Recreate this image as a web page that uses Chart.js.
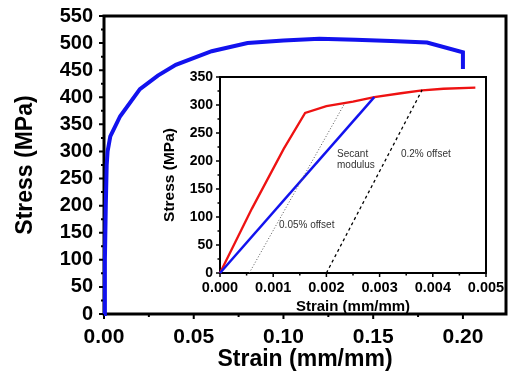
<!DOCTYPE html>
<html>
<head>
<meta charset="utf-8">
<script src="https://cdn.jsdelivr.net/npm/chart.js@4.4.0/dist/chart.umd.min.js"></script>
<style>
body { margin: 0; background: #fff; }
#wrap { position: relative; width: 508px; height: 373px; overflow: hidden; }
#main { position: absolute; left: 0; top: 0; }
#inset { position: absolute; left: 150px; top: 62px; }
</style>
</head>
<body>
<div id="wrap">
<canvas id="main" width="508" height="373"></canvas>
<canvas id="inset" width="358" height="255"></canvas>
</div>
<script>
// curva principal (ensaio completo)
const strainMain = [0, 0.0005, 0.001, 0.0015, 0.002, 0.0035, 0.009, 0.02, 0.03, 0.04, 0.06, 0.08, 0.10, 0.12, 0.14, 0.16, 0.18, 0.20, 0.20]
const stressMain = [0, 100, 200, 275, 300, 328, 365, 415, 440, 460, 485, 500, 505, 508, 506, 504, 501, 483, 452]

// detalhe (inset): regiao elastica
const strainRed = [0, 0.0006, 0.0012, 0.0016, 0.002, 0.0025, 0.0029, 0.0034, 0.0038, 0.0042, 0.0048]
const stressRed = [0, 115, 222, 286, 298, 306, 314, 321, 326, 329, 331]
const strainSecant = [0, 0.0029]
const stressSecant = [0, 314]
const strainOff005 = [0.00055, 0.00235]
const stressOff005 = [0, 304]
const strainOff02 = [0.002, 0.0038]
const stressOff02 = [0, 327]

// textos do inset
const notas = ['Secant', 'modulus', '0.2% offset', '0.05% offset']
const notasX = [0.0022, 0.0022, 0.0034, 0.00111]
const notasY = [212, 193, 212, 86]

function pares(xs, ys) {
    return xs.map((x, i) => ({ x: x, y: ys[i] }))
}

// desenha a moldura e os ticks (maiores e menores)
const moldura = {
    id: 'moldura',
    beforeDatasetsDraw(chart, args, o) {
        const { ctx, chartArea: a, scales } = chart
        ctx.save()
        ctx.strokeStyle = '#000'
        ctx.lineWidth = o.box
        ctx.strokeRect(a.left, a.top, a.right - a.left, a.bottom - a.top)
        ctx.lineWidth = o.tick
        ctx.beginPath()
        let sx = scales.x
        let nx = Math.floor((sx.max - sx.min) / o.xMinor + 1e-6)
        for (let i = 0; i <= nx; i++) {
            let px = sx.getPixelForValue(sx.min + i * o.xMinor)
            let len = i % 2 == 0 ? o.major : o.minor
            ctx.moveTo(px, a.bottom)
            ctx.lineTo(px, a.bottom + len)
        }
        let sy = scales.y
        let ny = Math.floor((sy.max - sy.min) / o.yMinor + 1e-6)
        for (let i = 0; i <= ny; i++) {
            let py = sy.getPixelForValue(sy.min + i * o.yMinor)
            let len = i % 2 == 0 ? o.major : o.minor
            ctx.moveTo(a.left, py)
            ctx.lineTo(a.left - len, py)
        }
        ctx.stroke()
        ctx.restore()
    }
}

const textos = {
    id: 'textos',
    afterDatasetsDraw(chart) {
        const { ctx, scales } = chart
        ctx.save()
        ctx.fillStyle = '#333'
        ctx.font = '10px "Liberation Sans"'
        ctx.textBaseline = 'middle'
        ctx.textAlign = 'left'
        for (let i = 0; i < notas.length; i++) {
            ctx.fillText(notas[i], scales.x.getPixelForValue(notasX[i]), scales.y.getPixelForValue(notasY[i]))
        }
        ctx.restore()
    }
}

const bold = (s) => ({ family: '"Liberation Sans", Arial', weight: 'bold', size: s })

// tira o espaco extra que o Chart.js reserva para os rotulos das pontas
function semPadding(s) {
    s.paddingLeft = 0
    s.paddingRight = 0
    s.paddingTop = 0
    s.paddingBottom = 0
}

// grafico principal
new Chart(document.getElementById('main'), {
    type: 'scatter',
    data: {
        datasets: [{
            data: pares(strainMain, stressMain),
            showLine: true,
            borderColor: '#1212ee',
            borderWidth: 4,
            pointRadius: 0,
            tension: 0,
            clip: 4
        }]
    },
    options: {
        responsive: false,
        animation: false,
        layout: { padding: { top: 16, right: 2, left: 0, bottom: 0 } },
        plugins: {
            legend: { display: false },
            tooltip: { enabled: false },
            moldura: { box: 3, tick: 2, major: 5, minor: 3, xMinor: 0.025, yMinor: 25 }
        },
        scales: {
            x: {
                type: 'linear', min: 0, max: 0.224,
                afterFit: s => { s.height = 59; semPadding(s) },
                grid: { display: false, drawTicks: false },
                border: { display: false },
                ticks: { stepSize: 0.05, includeBounds: false, autoSkip: false, padding: 11, color: '#000', font: bold(21),
                    callback: v => v.toFixed(2) },
                title: { display: true, text: 'Strain (mm/mm)', color: '#000', font: bold(23), padding: { top: 0, bottom: 0 } }
            },
            y: {
                type: 'linear', min: 0, max: 550,
                afterFit: s => { s.width = 104; semPadding(s) },
                grid: { display: false, drawTicks: false },
                border: { display: false },
                ticks: { stepSize: 50, autoSkip: false, padding: 11, color: '#000', font: bold(20) },
                title: { display: true, text: 'Stress (MPa)', color: '#000', font: bold(23), padding: { top: 12, bottom: 0 } }
            }
        }
    },
    plugins: [moldura]
})

// grafico do detalhe
new Chart(document.getElementById('inset'), {
    type: 'scatter',
    data: {
        datasets: [
            { data: pares(strainOff005, stressOff005), showLine: true, borderColor: '#555', borderWidth: 1, borderDash: [1, 2], pointRadius: 0 },
            { data: pares(strainOff02, stressOff02), showLine: true, borderColor: '#000', borderWidth: 1.3, borderDash: [3, 3], pointRadius: 0 },
            { data: pares(strainSecant, stressSecant), showLine: true, borderColor: '#1212ee', borderWidth: 2.5, pointRadius: 0, clip: 3 },
            { data: pares(strainRed, stressRed), showLine: true, borderColor: '#ee1212', borderWidth: 2.3, pointRadius: 0, clip: 3 }
        ]
    },
    options: {
        responsive: false,
        animation: false,
        layout: { padding: { top: 15, right: 22, left: 0, bottom: 0 } },
        plugins: {
            legend: { display: false },
            tooltip: { enabled: false },
            moldura: { box: 2, tick: 1.5, major: 4, minor: 2.5, xMinor: 0.0005, yMinor: 25 }
        },
        scales: {
            x: {
                type: 'linear', min: 0, max: 0.005,
                afterFit: s => { s.height = 44; semPadding(s) },
                grid: { display: false, drawTicks: false },
                border: { display: false },
                ticks: { stepSize: 0.001, autoSkip: false, padding: 6, color: '#000', font: bold(14.5),
                    callback: v => v.toFixed(3) },
                title: { display: true, text: 'Strain (mm/mm)', color: '#000', font: bold(15), padding: { top: 0, bottom: 1 } }
            },
            y: {
                type: 'linear', min: 0, max: 350,
                afterFit: s => { s.width = 70; semPadding(s) },
                grid: { display: false, drawTicks: false },
                border: { display: false },
                ticks: { stepSize: 50, autoSkip: false, padding: 7, color: '#000', font: bold(14) },
                title: { display: true, text: 'Stress (MPa)', color: '#000', font: bold(15.5), padding: { top: 10, bottom: 0 } }
            }
        }
    },
    plugins: [moldura, textos]
})
</script>
</body>
</html>
